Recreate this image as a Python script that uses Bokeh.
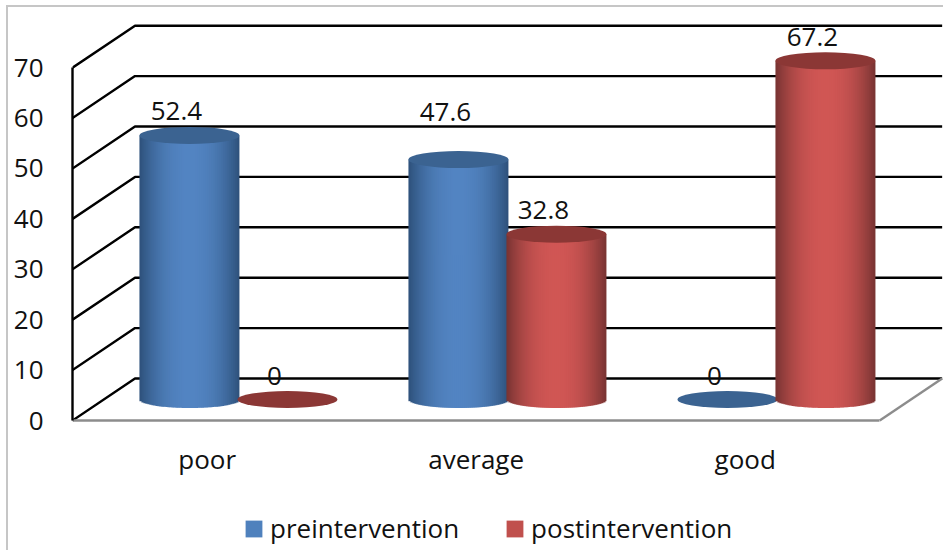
from bokeh.plotting import figure
from bokeh.embed import file_html
from bokeh.resources import INLINE
from bokeh.models import Range1d, FixedTicker, Legend, LegendItem, ColumnDataSource, LinearAxis
from bokeh.core.properties import value
import numpy as np

categories = ["poor", "average", "good"]
preintervention = [52.4, 47.6, 0]
postintervention = [0, 32.8, 67.2]
y_ticks = [0, 10, 20, 30, 40, 50, 60, 70]
label_lift_pre = [24, 48, 24]
label_lift_post = [24, 24, 24]

PX_X = 269.0
PX_Y = 5.04
depth_x = 62.5 / PX_X
depth_y = 42 / PX_Y
bar_w = 100 / PX_X
bar_step = 98 / PX_X
ell_h = 17 / PX_Y
FONT = "Open Sans"
FS = "26px"
x_end = 2.7372

frame_css = ("linear-gradient(#c6c6c6,#c6c6c6) 6px 5px/2px 100% no-repeat,"
             "linear-gradient(#c6c6c6,#c6c6c6) 6px 5px/100% 2px no-repeat")
p = figure(width=943, height=550, output_backend="svg", toolbar_location=None,
           x_range=Range1d(-0.5007, x_end), y_range=Range1d(-25.79, 83.33),
           min_border_left=72, min_border_right=0, min_border_top=0, min_border_bottom=0,
           x_axis_location=None, y_axis_location=None,
           styles={"background": frame_css})
p.grid.visible = False
p.outline_line_color = None
p.background_fill_color = None
p.border_fill_color = None

# walls
x0, x1 = -0.5007, 2.5
for v in y_ticks:
    p.line([x0, x0 + depth_x, x_end - 0.005], [v, v + depth_y, v + depth_y], line_color="black", line_width=2.4)
# floor right edge
p.line([x1, x1 + depth_x], [0, depth_y], line_color="#8c8c8c", line_width=2.4)


def shade(t, edge, mid):
    k = (1 - abs(t) ** 2.2)
    return "#%02x%02x%02x" % tuple(int(round(e + (m - e) * k)) for e, m in zip(edge, mid))


def cylinder(cx, v, edge, mid, top):
    base = depth_y / 2
    if v > 0:
        ts = np.linspace(-1, 1, 51)
        left = cx + ts[:-1] * bar_w / 2
        right = np.minimum(cx + ts[1:] * bar_w / 2 + 1 / PX_X, cx + bar_w / 2)
        tm = (ts[:-1] + ts[1:]) / 2
        bottoms = base - ell_h / 2 * np.sqrt(1 - tm ** 2)
        colors = [shade(t, edge, mid) for t in tm]
        p.quad(left=left, right=right, bottom=bottoms, top=base + v, fill_color=colors, line_color=None)
    p.ellipse(x=[cx], y=[base + v], width=bar_w, height=ell_h, fill_color=top, line_color=None)


BLUE = ((0x2d, 0x50, 0x7a), (0x52, 0x84, 0xc2), "#3b6391")
RED = ((0x77, 0x33, 0x32), (0xd0, 0x56, 0x54), "#8b3735")

for i in range(3):
    cx = i + depth_x / 2
    cylinder(cx - bar_step / 2, preintervention[i], *BLUE)
    cylinder(cx + bar_step / 2, postintervention[i], *RED)

xs, ys, txt, lift = [], [], [], []
for i in range(3):
    cx = i + depth_x / 2
    for off, vals, lifts in ((-bar_step / 2, preintervention, label_lift_pre), (bar_step / 2, postintervention, label_lift_post)):
        xs.append(cx + off - 13 / PX_X)
        ys.append(depth_y / 2 + vals[i])
        txt.append(str(vals[i]))
        lift.append(-lifts[i])
src = ColumnDataSource(dict(x=xs, y=ys, t=txt, o=lift))
p.text(x="x", y="y", text="t", y_offset="o", source=src, text_align="center", text_baseline="middle",
       text_font=value(FONT), text_font_size=value(FS), text_color="#111111")

# axes
ya = LinearAxis(ticker=FixedTicker(ticks=y_ticks), bounds=(0, 70),
                major_tick_line_color=None, minor_tick_line_color=None, major_tick_out=0, major_tick_in=0,
                axis_line_color="black", axis_line_width=2.4, major_label_standoff=29,
                major_label_text_font=FONT, major_label_text_font_size=FS, major_label_text_color="#111111")
p.add_layout(ya, "left")
xa = LinearAxis(ticker=FixedTicker(ticks=[0, 1, 2]), fixed_location=0, bounds=(x0, x1),
                major_label_overrides={i: c for i, c in enumerate(categories)},
                major_tick_line_color=None, minor_tick_line_color=None, major_tick_out=0, major_tick_in=0,
                axis_line_color="#8c8c8c", axis_line_width=2.6, major_label_standoff=20,
                major_label_text_font=FONT, major_label_text_font_size=FS, major_label_text_color="#111111")
p.add_layout(xa, "below")

nan = float("nan")
r1 = p.quad(left=[nan], right=[nan], top=[nan], bottom=[nan], fill_color="#4f81bd", line_color=None)
r2 = p.quad(left=[nan], right=[nan], top=[nan], bottom=[nan], fill_color="#c0504d", line_color=None)
legend = Legend(items=[LegendItem(label="preintervention", renderers=[r1]),
                       LegendItem(label="postintervention", renderers=[r2])],
                orientation="horizontal", location=(171, 4), border_line_color=None,
                background_fill_alpha=0, glyph_width=21, glyph_height=21, label_standoff=6, spacing=45,
                margin=0, padding=0,
                label_text_font=FONT, label_text_font_size=FS, label_text_color="#111111")
p.add_layout(legend, "center")

open("out.html", "w").write(file_html(p, INLINE))
